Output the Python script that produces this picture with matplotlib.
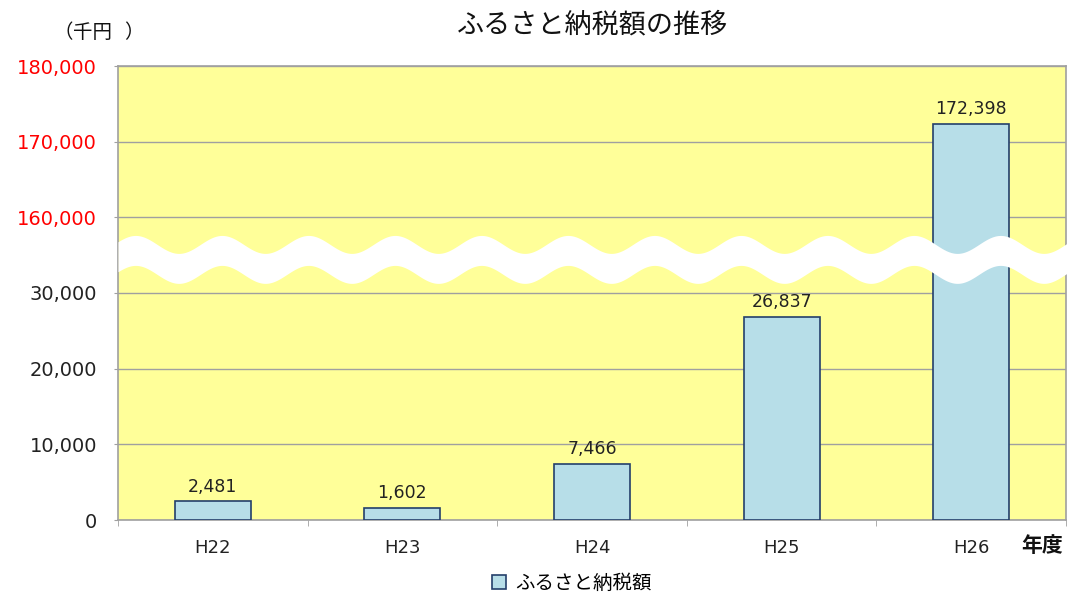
import numpy as np
import matplotlib.pyplot as plt
from matplotlib.patches import Patch

years = ["H22", "H23", "H24", "H25", "H26"]
amounts = [2481, 1602, 7466, 26837, 172398]
y_ticks = [0, 10000, 20000, 30000, 160000, 170000, 180000]

JP = ["Noto Sans CJK JP", "DejaVu Sans"]
NUM = ["DejaVu Sans", "Noto Sans CJK JP"]

# anything above the break is pulled down by the skipped range
GAP = 120000
CUT = 35000


def forward(v):
    v = np.asarray(v, dtype=float)
    return np.where(v > CUT, v - GAP, v)


def inverse(u):
    u = np.asarray(u, dtype=float)
    return np.where(u > CUT, u + GAP, u)


fig = plt.figure(figsize=(10.7, 5.95), dpi=100)
ax = fig.add_axes([118 / 1070, 1 - 520 / 595, (1066 - 118) / 1070, (520 - 66) / 595])
ax.set_yscale("function", functions=(forward, inverse))
ax.set_facecolor("#FFFF99")

x = np.arange(len(years))
ax.bar(x, amounts, width=0.4, color="#B7DEE8", edgecolor="#243F6B", linewidth=1.2, zorder=3)

for xi, v in zip(x, amounts):
    ax.annotate(f"{v:,}", (xi, v), xytext=(0, 4), textcoords="offset points",
                ha="center", va="bottom", fontsize=12.5, color="#222222", family=NUM, zorder=4)

ax.set_xlim(-0.5, len(years) - 0.5)
ax.set_ylim(0, 180000)
ax.set_yticks(y_ticks)
ax.set_yticklabels([f"{t:,}" for t in y_ticks], fontsize=14, family=NUM)
for t, lab in zip(y_ticks, ax.get_yticklabels()):
    lab.set_color("#FF0000" if t >= 160000 else "#222222")
ax.yaxis.grid(True, color="#A0A0A0", linewidth=1, zorder=1)
ax.set_axisbelow(True)

ax.set_xticks(x)
ax.set_xticklabels(years, fontsize=13, family=NUM, color="#222222")
ax.set_xticks(np.arange(len(years) + 1) - 0.5, minor=True)
ax.tick_params(axis="x", which="major", length=0, pad=14)
ax.tick_params(axis="x", which="minor", length=4, color="#A0A0A0")
ax.tick_params(axis="y", length=3, color="#A0A0A0", pad=12)
for s in ax.spines.values():
    s.set_color("#A0A0A0")
    s.set_linewidth(1.2)

# white wavy band marking the axis break
xs = np.linspace(0, 1.004, 600)
period = 86.5 / 948
centre = 0.574 + 0.0198 * np.cos(2 * np.pi * (xs - 104 / 948) / period)
ax.fill_between(xs, centre - 0.033, centre + 0.033, color="white", lw=0,
                transform=ax.transAxes, zorder=5, clip_on=False)

fig.text(592 / 1070, 1 - 25 / 595, "ふるさと納税額の推移", ha="center", va="center",
         fontsize=19.5, family=JP, color="#111111")
# unit label, parentheses spread apart
fig.text(73 / 1070, 1 - 33 / 595, "（", ha="right", va="center",
         fontsize=14, family=JP, color="#111111")
fig.text(93 / 1070, 1 - 33 / 595, "千円", ha="center", va="center",
         fontsize=14, family=JP, color="#111111")
fig.text(124 / 1070, 1 - 33 / 595, "）", ha="left", va="center",
         fontsize=14, family=JP, color="#111111")
fig.text(1042 / 1070, 1 - 546 / 595, "年度", ha="center", va="center",
         fontsize=15, family=JP, color="#111111", fontweight="bold")

handle = Patch(facecolor="#B7DEE8", edgecolor="#243F6B", linewidth=1.2)
fig.legend([handle], ["ふるさと納税額"], loc="center", bbox_to_anchor=(572 / 1070, 1 - 583 / 595),
           frameon=False, prop={"family": JP, "size": 14}, handlelength=0.7, handleheight=0.7,
           handletextpad=0.5)

fig.savefig("out.png", dpi=100)
